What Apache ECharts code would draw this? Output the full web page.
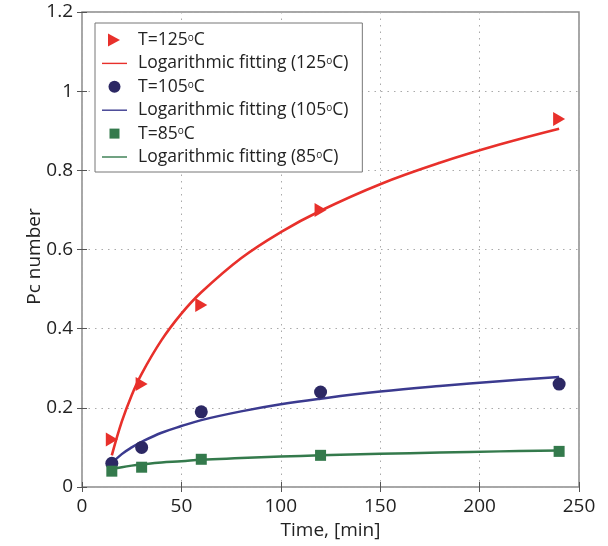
<!DOCTYPE html>
<html><head><meta charset="utf-8">
<script src="https://cdn.jsdelivr.net/npm/echarts@6/dist/echarts.min.js"></script>
<style>html,body{margin:0;padding:0;background:#fff}#c{width:608px;height:546px}</style>
</head><body><div id="c"></div>
<script>
// measured points
var time = [15, 30, 60, 120, 240];
var pc125 = [0.12, 0.26, 0.46, 0.70, 0.93];
var pc105 = [0.06, 0.10, 0.19, 0.24, 0.26];
var pc85 = [0.04, 0.05, 0.07, 0.08, 0.09];
// fitted curves
var fitTime = [15, 20, 25, 30, 40, 50, 60, 80, 100, 120, 150, 180, 210, 240];
var fit125 = [0.08, 0.165, 0.232, 0.286, 0.371, 0.438, 0.492, 0.578, 0.644, 0.698, 0.765, 0.819, 0.865, 0.905];
var fit105 = [0.06, 0.083, 0.100, 0.114, 0.137, 0.154, 0.169, 0.191, 0.209, 0.223, 0.241, 0.255, 0.267, 0.278];
var fit85 = [0.045, 0.050, 0.054, 0.057, 0.062, 0.065, 0.069, 0.073, 0.077, 0.080, 0.084, 0.087, 0.090, 0.092];
var xTicks = [0, 50, 100, 150, 200, 250];
var yTicks = [0, 0.2, 0.4, 0.6, 0.8, 1, 1.2];
var names = ['T=125', 'Logarithmic fitting (125', 'T=105', 'Logarithmic fitting (105', 'T=85', 'Logarithmic fitting (85'];

function zip(xs, ys) { return xs.map(function (x, i) { return [x, ys[i]]; }); }
var FONT = 'Open Sans';
var red = '#e8302b', navy = '#2c2864', navyLine = '#3b3a8f', green = '#347a4c';
var tri = 'path://M0,0 L10,5.5 L0,11 Z';
// legend icons padded to the 25x14 legend item box
var icoTri = 'path://M0,0 M25,14 M6,0.5 L18,7 L6,13.5 Z';
var icoCirc = 'path://M0,0 M25,14 M6.5,7 A6,6 0 1 1 18.5,7 A6,6 0 1 1 6.5,7 Z';
var icoRect = 'path://M0,0 M25,14 M7.5,2 H17.5 V12 H7.5 Z';
var icoLine = 'path://M0,0 M25,14 M0,6.3 H25 V7.7 H0 Z';

var chart = echarts.init(document.getElementById('c'), null, {renderer: 'canvas'});
var tickAxis = function (pos, isX) {
  return {
    type: 'value', position: pos, min: 0, max: isX ? 250 : 1.2, interval: isX ? 50 : 0.2,
    axisLine: {show: false}, axisLabel: {show: false}, splitLine: {show: false},
    axisTick: {show: true, inside: true, length: 5, lineStyle: {color: '#555', width: 1}}
  };
};
chart.setOption({
  animation: false,
  grid: {left: 82, right: 29, top: 12, bottom: 59, show: true, borderColor: '#8a8a8a', borderWidth: 1.5, backgroundColor: 'transparent'},
  xAxis: [{
    type: 'value', min: 0, max: 250, interval: 50,
    name: 'Time, [min]', nameLocation: 'middle', nameGap: 31,
    nameTextStyle: {fontFamily: FONT, fontSize: 19, color: '#222'},
    axisLine: {show: false},
    axisTick: {show: true, inside: true, length: 5, lineStyle: {color: '#555'}},
    axisLabel: {fontFamily: FONT, fontSize: 19, color: '#222', margin: 10},
    splitLine: {show: true, lineStyle: {color: '#aaa', type: [1.5, 5], width: 1}}
  }, tickAxis('top', true)],
  yAxis: [{
    type: 'value', min: 0, max: 1.2, interval: 0.2,
    name: 'Pc number', nameLocation: 'middle', nameGap: 38, nameMoveOverlap: false,
    nameTextStyle: {fontFamily: FONT, fontSize: 19, color: '#222', padding: [0, 14, 0, 0]},
    axisLine: {show: false},
    axisTick: {show: true, inside: true, length: 5, lineStyle: {color: '#555'}},
    axisLabel: {fontFamily: FONT, fontSize: 19, color: '#222', margin: 9,
      formatter: function (v) { return String(Math.round(v * 10) / 10); }},
    splitLine: {show: true, lineStyle: {color: '#aaa', type: [1.5, 5], width: 1}}
  }, tickAxis('right', false)],
  legend: {
    orient: 'vertical', left: 95, top: 23,
    padding: [8, 14, 6, 7], itemGap: 5.4, itemWidth: 25, itemHeight: 14,
    borderColor: '#777', borderWidth: 1, backgroundColor: '#fff',
    data: [
      {name: names[0], icon: icoTri, itemStyle: {color: red, opacity: 1}},
      {name: names[1], icon: icoLine, itemStyle: {color: red, opacity: 1}},
      {name: names[2], icon: icoCirc, itemStyle: {color: navy, opacity: 1}},
      {name: names[3], icon: icoLine, itemStyle: {color: navyLine, opacity: 1}},
      {name: names[4], icon: icoRect, itemStyle: {color: green, opacity: 1}},
      {name: names[5], icon: icoLine, itemStyle: {color: green, opacity: 1}}
    ],
    formatter: function (n) { return '{a|' + n + '}{s|o}{a|C' + (n.indexOf('(') >= 0 ? ')' : '') + '}'; },
    textStyle: {
      fontFamily: FONT, fontSize: 17.5, color: '#222', padding: [0, 0, 0, 6],
      rich: {
        a: {fontFamily: FONT, fontSize: 17.5, color: '#222', lineHeight: 14},
        s: {fontFamily: FONT, fontSize: 10, color: '#222', verticalAlign: 'top', lineHeight: 14, padding: [0, 0, 5, 0]}
      }
    }
  },
  series: [
    {name: names[0], type: 'scatter', data: zip(time, pc125), symbol: tri, symbolSize: [12, 14], itemStyle: {color: red, opacity: 1}, z: 3},
    {name: names[1], type: 'line', data: zip(fitTime, fit125), smooth: 0.4, symbol: 'none', lineStyle: {color: red, width: 2.6}, itemStyle: {color: red}, z: 4},
    {name: names[2], type: 'scatter', data: zip(time, pc105), symbol: 'circle', symbolSize: 13, itemStyle: {color: navy, opacity: 1}, z: 3},
    {name: names[3], type: 'line', data: zip(fitTime, fit105), smooth: 0.4, symbol: 'none', lineStyle: {color: navyLine, width: 2.5}, itemStyle: {color: navyLine}, z: 2},
    {name: names[4], type: 'scatter', data: zip(time, pc85), symbol: 'rect', symbolSize: 11, itemStyle: {color: green, opacity: 1}, z: 3},
    {name: names[5], type: 'line', data: zip(fitTime, fit85), smooth: 0.4, symbol: 'none', lineStyle: {color: green, width: 2.5}, itemStyle: {color: green}, z: 2}
  ]
});
</script></body></html>
